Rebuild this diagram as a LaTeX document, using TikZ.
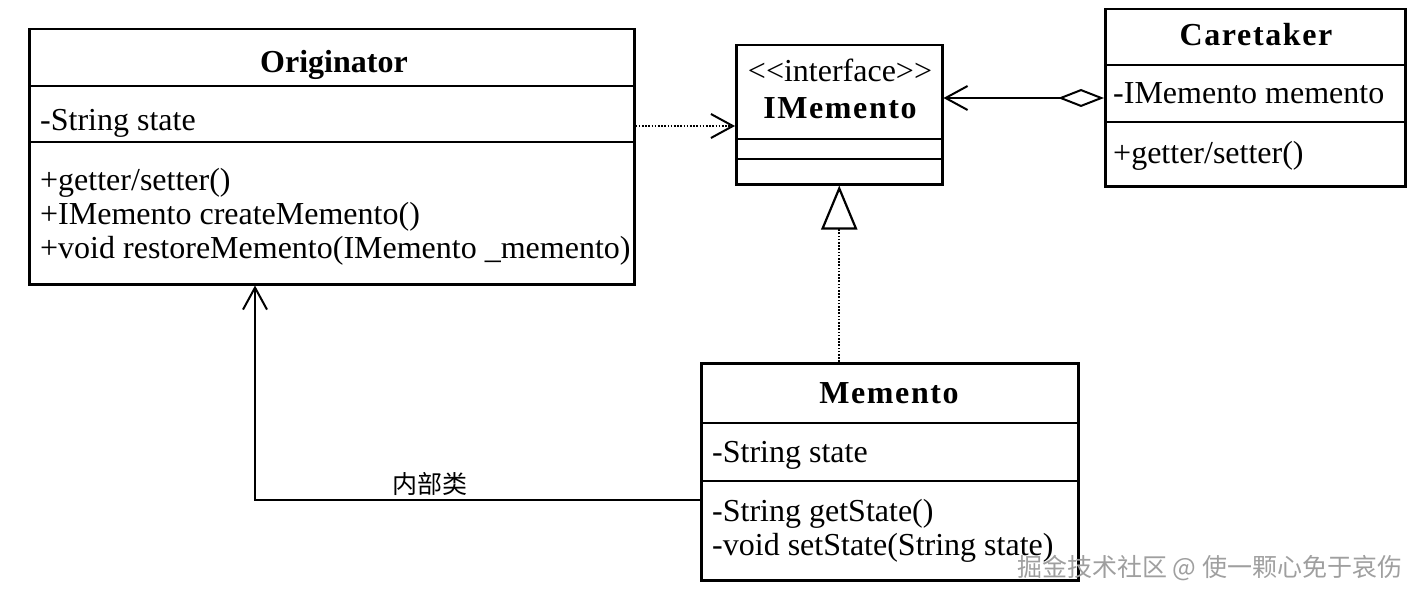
\documentclass[tikz,border=0pt]{standalone}
\usepackage{fontspec}
\setmainfont{Liberation Serif}
\newfontfamily\spacedbf[LetterSpace=5]{Liberation Serif Bold}
\newfontfamily\cjk{Noto Sans CJK SC}
\usetikzlibrary{arrows.meta}
\begin{document}
\begin{tikzpicture}[x=1pt,y=-1pt,
  box/.style={draw,line width=2.5pt,inner sep=0pt,anchor=north west},
  sep/.style={line width=2.5pt},
  txt/.style={inner sep=0pt,anchor=base west,font=\fontsize{32}{34}\selectfont},
  ttl/.style={inner sep=0pt,anchor=base,font=\fontsize{32}{34}\selectfont\bfseries},
  sttl/.style={inner sep=0pt,anchor=base,font=\spacedbf\fontsize{32}{34}\selectfont},
  open/.style={-{Straight Barb[length=22pt,width=24pt,line width=2pt]}},
  dep/.style={line width=1.6pt,dash pattern=on 1.6pt off 1.6pt,open},
  assoc/.style={line width=2pt,open},
  real/.style={line width=1.6pt,dash pattern=on 1.6pt off 1.6pt,-{Triangle[open,length=44pt,width=36pt,line width=2.2pt]}},
  aggr/.style={line width=2pt,{Diamond[open,length=46pt,width=18pt,line width=2pt]}-{Straight Barb[length=22pt,width=24pt,line width=2pt]}}
]
\useasboundingbox (0,0) rectangle (1420,599);
% Originator
\node[box,minimum width=605pt,minimum height=255pt] (orig) at (28,28) {};
\draw[sep] (orig.west |- 0,86) -- (orig.east |- 0,86);
\draw[sep] (orig.west |- 0,142) -- (orig.east |- 0,142);
\node[ttl] (origt) at (334,73) {Originator};
\node[txt] (origa) at (40,131) {-String state};
\node[txt] (origm1) at (40,190) {+getter/setter()};
\node[txt] (origm2) at (40,224) {+IMemento createMemento()};
\node[txt] (origm3) at (40,258) {+void restoreMemento(IMemento \_memento)};
% IMemento
\node[box,minimum width=206pt,minimum height=139pt] (imem) at (735,44) {};
\draw[sep] (imem.west |- 0,139) -- (imem.east |- 0,139);
\draw[sep] (imem.west |- 0,159) -- (imem.east |- 0,159);
\node[txt,anchor=base] (imems) at (840,82) {<{}<interface>{}>};
\node[sttl] (imemt) at (840,119) {IMemento};
% Caretaker
\node[box,minimum width=300pt,minimum height=177pt] (care) at (1104,8) {};
\draw[sep] (care.west |- 0,65) -- (care.east |- 0,65);
\draw[sep] (care.west |- 0,122) -- (care.east |- 0,122);
\node[sttl] (caret) at (1256,46) {Caretaker};
\node[txt] (carea) at (1113,104) {-IMemento memento};
\node[txt] (carem) at (1113,163) {+getter/setter()};
% Memento
\node[box,minimum width=377pt,minimum height=217pt] (mem) at (700,362) {};
\draw[sep] (mem.west |- 0,423) -- (mem.east |- 0,423);
\draw[sep] (mem.west |- 0,481) -- (mem.east |- 0,481);
\node[sttl] (memt) at (889,403) {Memento};
\node[txt] (mema) at (712,462) {-String state};
\node[txt] (memm1) at (712,521) {-String getState()};
\node[txt] (memm2) at (712,555) {-void setState(String state)};
% connectors
\draw[dep] (orig.east |- 0,126) -- (imem.west |- 0,126);
\draw[aggr] (care.west |- 0,98) -- (imem.east |- 0,98);
\draw[real] (imem.south |- mem.north) -- (imem.south);
\draw[assoc] (mem.west |- 0,500) -| (255,0 |- orig.south);
\node[inner sep=0pt,font=\cjk\fontsize{25}{27}\selectfont] (lbl) at (430,484) {内部类};
% watermark
\node[inner sep=0pt,anchor=west,text=gray!75,font=\cjk\fontsize{25}{27}\selectfont] (wm) at (1017,568) {掘金技术社区 @ 使一颗心免于哀伤};
\end{tikzpicture}
\end{document}
